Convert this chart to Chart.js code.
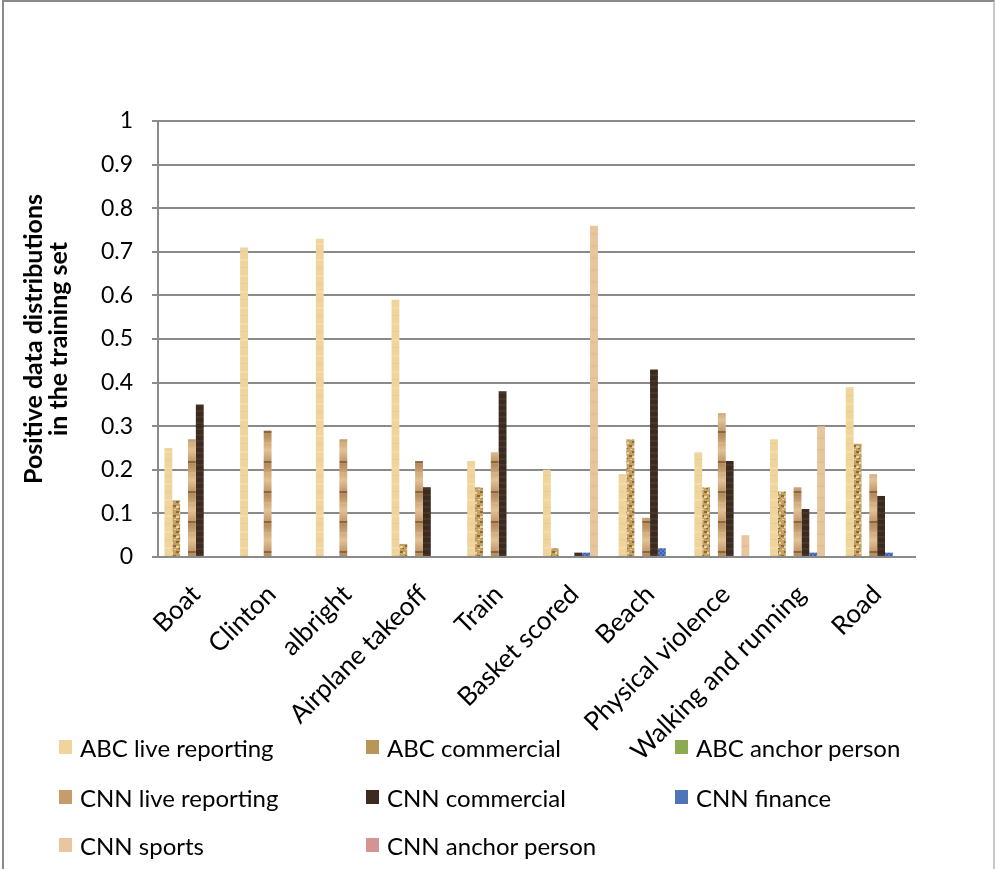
<!DOCTYPE html>
<html>
<head>
<meta charset="utf-8">
<script src="https://cdn.jsdelivr.net/npm/chart.js@4.4.1/dist/chart.umd.min.js"></script>
<style>
  html, body { margin: 0; padding: 0; background: #fff; }
  #wrap { position: relative; width: 995px; height: 869px; overflow: hidden; font-family: Lato, "Open Sans", sans-serif; }
  #chart { position: absolute; left: 0; top: 0; }
  #frame { position: absolute; left: 2px; top: 0; width: 989px; height: 900px;
           border-left: 2px solid #8a8a8a; border-top: 2px solid #8a8a8a; border-right: 2px solid #c8c8c8; }
  .leg { position: absolute; height: 26px; display: flex; align-items: center; font-size: 24px; color: #000; white-space: nowrap; }
  .leg .sw { width: 13px; height: 14px; margin-right: 8px; flex: none; }
</style>
</head>
<body>
<div id="wrap">
  <canvas id="chart" width="995" height="869"></canvas>
  <div id="frame"></div>
  <div id="legend"></div>
</div>
<script>
// Categories and tick labels
const categories = ['Boat', 'Clinton', 'albright', 'Airplane takeoff', 'Train', 'Basket scored',
  'Beach', 'Physical violence', 'Walking and running', 'Road'];
const yTickLabels = ['0', '0.1', '0.2', '0.3', '0.4', '0.5', '0.6', '0.7', '0.8', '0.9', '1'];

// Share of positive samples per concept, one array per source
const abcLiveReporting  = [0.25, 0.71, 0.73, 0.59, 0.22, 0.20, 0.19, 0.24, 0.27, 0.39];
const abcCommercial     = [0.13, 0,    0,    0.03, 0.16, 0.02, 0.27, 0.16, 0.15, 0.26];
const abcAnchorPerson   = [0,    0,    0,    0,    0,    0,    0,    0,    0,    0   ];
const cnnLiveReporting  = [0.27, 0.29, 0.27, 0.22, 0.24, 0,    0.09, 0.33, 0.16, 0.19];
const cnnCommercial     = [0.35, 0,    0,    0.16, 0.38, 0.01, 0.43, 0.22, 0.11, 0.14];
const cnnFinance        = [0,    0,    0,    0,    0,    0.01, 0.02, 0,    0.01, 0.01];
const cnnSports         = [0,    0,    0,    0,    0,    0.76, 0,    0.05, 0.30, 0   ];
const cnnAnchorPerson   = [0,    0,    0,    0,    0,    0,    0,    0,    0,    0   ];

const seriesNames = ['ABC live reporting', 'ABC commercial', 'ABC anchor person',
  'CNN live reporting', 'CNN commercial', 'CNN finance', 'CNN sports', 'CNN anchor person'];
const seriesValues = [abcLiveReporting, abcCommercial, abcAnchorPerson, cnnLiveReporting,
  cnnCommercial, cnnFinance, cnnSports, cnnAnchorPerson];

// Small textured fills, built on tiny canvases
const ctxMain = document.getElementById('chart').getContext('2d');
function pat(w, h, draw) {
  const c = document.createElement('canvas');
  c.width = w; c.height = h;
  draw(c.getContext('2d'), w, h);
  return ctxMain.createPattern(c, 'repeat');
}

const fillAbcLive = pat(8, 16, (g, w, h) => {
  g.fillStyle = '#efd49c'; g.fillRect(0, 0, w, h);
  g.fillStyle = '#f3dcab'; g.fillRect(0, 3, w, 2);
  g.fillStyle = '#e9cd92'; g.fillRect(0, 11, w, 1);
});
const fillAbcComm = pat(8, 10, (g, w, h) => {
  g.fillStyle = '#c4a163'; g.fillRect(0, 0, w, h);
  g.fillStyle = '#8a6a3a'; g.fillRect(0, 1, 3, 2); g.fillRect(5, 5, 3, 2); g.fillRect(2, 8, 2, 1);
  g.fillStyle = '#ead49a'; g.fillRect(3, 2, 2, 2); g.fillRect(0, 6, 3, 2); g.fillRect(6, 9, 2, 1);
});
const fillCnnLive = pat(8, 30, (g, w, h) => {
  const gr = g.createLinearGradient(0, 0, 0, h);
  gr.addColorStop(0, '#e2c298'); gr.addColorStop(0.5, '#b88b5a'); gr.addColorStop(1, '#e2c298');
  g.fillStyle = gr; g.fillRect(0, 0, w, h);
  g.fillStyle = '#8a6640'; g.fillRect(0, 11, w, 2);
  g.fillStyle = '#d6b184'; g.fillRect(0, 22, w, 2);
});
const fillCnnComm = pat(8, 6, (g, w, h) => {
  g.fillStyle = '#3a2a1f'; g.fillRect(0, 0, w, h);
  g.fillStyle = '#4a3628'; g.fillRect(0, 2, w, 2);
});
const fillCnnFinance = pat(4, 4, (g, w, h) => {
  g.fillStyle = '#5b82c6'; g.fillRect(0, 0, w, h);
  g.fillStyle = '#3e62a6'; g.fillRect(0, 0, 2, 2); g.fillRect(2, 2, 2, 2);
});
const fillCnnSports = pat(8, 12, (g, w, h) => {
  g.fillStyle = '#e8c59d'; g.fillRect(0, 0, w, h);
  g.fillStyle = '#e2be94'; g.fillRect(0, 5, w, 2);
});

const seriesFills = [fillAbcLive, fillAbcComm, '#8eaa50', fillCnnLive, fillCnnComm,
  fillCnnFinance, fillCnnSports, '#d49494'];
const legendSwatch = ['#efd49b', '#b8965a', '#8eaa50', '#c79c6b', '#3d2b20', '#4f74b8', '#e9c69f', '#d49494'];

const datasets = seriesNames.map((name, i) => ({
  label: name,
  data: seriesValues[i],
  backgroundColor: seriesFills[i],
  borderWidth: 0,
  categoryPercentage: 0.83,
  barPercentage: 1.0
}));

const gridGray = '#8a8a8a';

new Chart(ctxMain, {
  type: 'bar',
  data: { labels: categories, datasets },
  options: {
    responsive: false,
    animation: false,
    layout: { padding: { left: 0, top: 121, right: 80, bottom: 0 } },
    plugins: { legend: { display: false }, tooltip: { enabled: false } },
    scales: {
      x: {
        grid: { display: false, drawTicks: false },
        border: { display: true, color: gridGray, width: 2 },
        ticks: {
          color: '#000',
          font: { family: 'Lato', size: 26 },
          maxRotation: 45, minRotation: 45, autoSkip: false, padding: 22
        },
        afterFit: (s) => { s.height = 312; }
      },
      y: {
        min: 0, max: 1,
        ticks: {
          stepSize: 0.1, color: '#000', padding: 19,
          font: { family: 'Lato', size: 23 },
          callback: (v, i) => yTickLabels[i]
        },
        grid: { color: gridGray, lineWidth: 2, tickLength: 6, drawTicks: true },
        border: { display: true, color: gridGray, width: 2 },
        title: {
          display: true,
          text: ['Positive data distributions', 'in the training set'],
          color: '#000',
          font: { family: 'Lato', size: 25, weight: 'bold', lineHeight: 1.0 },
          padding: { top: 21, bottom: 0 }
        },
        afterFit: (s) => { s.width = 158; }
      }
    }
  }
});

// Three-column legend below the axis labels
const legendCols = [59, 366, 675];
const legendRows = [747, 797, 845];
const legendEl = document.getElementById('legend');
seriesNames.forEach((name, i) => {
  const item = document.createElement('div');
  item.className = 'leg';
  item.style.left = legendCols[i % 3] + 'px';
  item.style.top = (legendRows[Math.floor(i / 3)] - 13) + 'px';
  const sw = document.createElement('span');
  sw.className = 'sw';
  sw.style.background = legendSwatch[i];
  item.appendChild(sw);
  item.appendChild(document.createTextNode(name));
  legendEl.appendChild(item);
});
</script>
</body>
</html>
